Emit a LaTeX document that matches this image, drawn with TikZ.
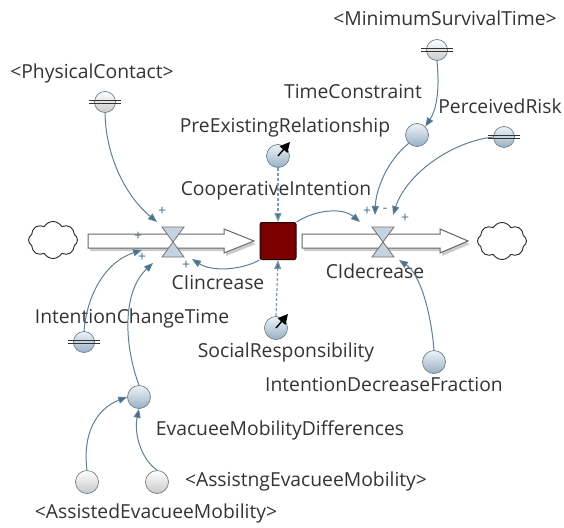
\documentclass[tikz,border=0pt]{standalone}
\usepackage{fontspec}
\setmainfont{Open Sans}
\usetikzlibrary{shapes.symbols,arrows.meta}

\definecolor{txt}{HTML}{333333}
\definecolor{link}{HTML}{5F7F97}
\definecolor{linkhead}{HTML}{44708F}
\definecolor{cirline}{HTML}{6F7E8A}
\definecolor{bluetop}{HTML}{EEF3F8}
\definecolor{bluebot}{HTML}{98B0C5}
\definecolor{greytop}{HTML}{FFFFFF}
\definecolor{greybot}{HTML}{C9C9C9}
\definecolor{stockred}{HTML}{7A0000}
\definecolor{valvefill}{HTML}{C4D3DF}
\definecolor{pipeline}{HTML}{666666}

\tikzset{
  lbl/.style={font=\fontsize{19.3}{22}\selectfont, text=txt, inner sep=0pt},
  sign/.style={font=\fontsize{14}{16}\selectfont, text=linkhead, inner sep=0pt},
  auxv/.style={circle, minimum size=23pt, inner sep=0pt, draw=cirline, line width=0.7pt,
               top color=bluetop, bottom color=bluebot},
  shadowv/.style={circle, minimum size=23pt, inner sep=0pt, draw=cirline, line width=0.7pt,
               top color=greytop, bottom color=greybot},
  consts/.style={circle, minimum size=21pt, inner sep=0pt, draw=cirline, line width=0.7pt,
               top color=bluetop, bottom color=bluebot},
  constg/.style={circle, minimum size=21pt, inner sep=0pt, draw=cirline, line width=0.7pt,
               top color=greytop, bottom color=greybot},
  bar/.style={draw=black!80, line width=0.8pt},
  link/.style={draw=link, line width=1pt, -{Triangle[length=9pt,width=7pt,fill=linkhead]}},
  dashlink/.style={draw=link!80, line width=1.2pt, dash pattern=on 3pt off 2pt,
                   -{Triangle[length=9pt,width=7pt,fill=linkhead]}},
  pipe/.style={draw=pipeline, line width=1pt, fill=white},
  valvetri/.style={draw=black!55, line width=0.8pt, fill=valvefill},
  cloudy/.style={cloud, cloud puffs=8, cloud puff arc=120, aspect=1.35, draw=black!85,
                 line width=0.9pt, fill=white, minimum width=49pt, minimum height=37pt, inner sep=0pt},
  stockbox/.style={draw=black!70!stockred, line width=1pt, fill=stockred, rounded corners=2pt,
                   minimum width=36pt, minimum height=37pt, inner sep=0pt},
  pointer/.style={line width=1.4pt, -{Triangle[length=10pt,width=10pt]}}
}

\newcommand\twobars[1]{%
  \draw[bar] ([shift={(-5pt,1.6pt)}]#1.west) -- ([shift={(5pt,1.6pt)}]#1.east);
  \draw[bar] ([shift={(-5pt,-1.6pt)}]#1.west) -- ([shift={(5pt,-1.6pt)}]#1.east);}

\begin{document}
\begin{tikzpicture}[x=1pt,y=-1pt]
\useasboundingbox (0,0) rectangle (564,527);

% ---- flow pipes ----
\fill[black!20] (90,237) -- (226,237) -- (226,232) -- (256,244) -- (226,256) -- (226,251) -- (90,251) -- cycle;
\draw[pipe] (88,234) -- (224,234) -- (224,229) -- (254,241) -- (224,253) -- (224,248) -- (88,248) -- cycle;
\fill[black!20] (304,237) -- (442,237) -- (442,232) -- (470,244) -- (442,256) -- (442,251) -- (304,251) -- cycle;
\draw[pipe] (302,234) -- (440,234) -- (440,229) -- (468,241) -- (440,253) -- (440,248) -- (302,248) -- cycle;

% ---- clouds and stock ----
\node[cloudy] (srccloud) at (53,240) {};
\node[cloudy] (sinkcloud) at (502,241) {};
\node[stockbox] (ci) at (278,241) {};

% ---- valves ----
\coordinate (vin) at (173,242);
\coordinate (vout) at (383,242);
\foreach \v in {vin,vout}{
  \draw[valvetri] ([shift={(-11pt,15pt)}]\v) -- ([shift={(11pt,15pt)}]\v) -- (\v) -- cycle;
  \draw[valvetri] ([shift={(-11pt,-15pt)}]\v) -- ([shift={(11pt,-15pt)}]\v) -- (\v) -- cycle;
}

% ---- variables ----
\node[constg] (phys) at (105,102) {};
\node[constg] (mst) at (437,50) {};
\node[auxv] (tc) at (417,135) {};
\node[consts] (pr) at (504,137) {};
\node[auxv] (per) at (278,156) {};
\node[auxv] (sr) at (276,328) {};
\node[consts] (ict) at (84,342) {};
\node[auxv] (idf) at (434,362) {};
\node[auxv] (emd) at (139,397) {};
\node[shadowv] (aem) at (87,482) {};
\node[shadowv] (gem) at (157,482) {};
\twobars{phys}
\twobars{mst}
\twobars{pr}
\twobars{ict}
\draw[pointer] (per.center) -- ++(12pt,14pt);
\draw[pointer] (sr.center) -- ++(12pt,14pt);

% ---- labels ----
\node[lbl] (lphys) at (92,73) {<PhysicalContact>};
\node[lbl] (lmst) at (445,18) {<MinimumSurvivalTime>};
\node[lbl] (ltc) at (353,92) {TimeConstraint};
\node[lbl] (lpr) at (500,106) {PerceivedRisk};
\node[lbl] (lper) at (285,127) {PreExistingRelationship};
\node[lbl] (lci) at (276,191) {CooperativeIntention};
\node[lbl] (lin) at (218,283) {CIincrease};
\node[lbl] (lout) at (375,271) {CIdecrease};
\node[lbl] (lict) at (132,318) {IntentionChangeTime};
\node[lbl] (lsr) at (286,352) {SocialResponsibility};
\node[lbl] (lidf) at (384,385) {IntentionDecreaseFraction};
\node[lbl] (lemd) at (280,430) {EvacueeMobilityDifferences};
\node[lbl] (lgem) at (306,481) {<AssistngEvacueeMobility>};
\node[lbl] (laem) at (156,513) {<AssistedEvacueeMobility>};

% ---- causal links ----
\coordinate (inA) at (157,222);
\coordinate (inB) at (142,250);
\coordinate (inC) at (153,263);
\coordinate (inD) at (192,259);
\coordinate (outA) at (360,222);
\coordinate (outB) at (375,215);
\coordinate (outC) at (393,215);
\coordinate (outD) at (399,260);

\draw[link] (phys.south) .. controls (106,160) and (128,198) .. (inA);
\draw[link] (ict.north) .. controls (87,295) and (105,262) .. (inB);
\draw[link] (emd.north) .. controls (124,345) and (122,292) .. (inC);
\draw[link] (ci.south west) .. controls (242,270) and (212,272) .. (inD);
\draw[link] (ci.north east) .. controls (315,210) and (342,207) .. (outA);
\draw[link] (tc.south west) .. controls (388,160) and (376,188) .. (outB);
\draw[link] (pr.west) .. controls (450,142) and (406,175) .. (outC);
\draw[link] (idf.north) .. controls (431,312) and (420,274) .. (outD);
\draw[link] (mst.south) .. controls (440,92) and (436,110) .. (tc.north east);
\draw[dashlink] (per.south) -- (ci.north);
\draw[dashlink] (sr.north) -- (ci.south);
\draw[link] (aem.north) .. controls (82,432) and (98,408) .. (emd.west);
\draw[link] (gem.north) .. controls (140,458) and (134,432) .. (emd.south);

% ---- polarities ----
\node[sign] (s1) at (162,211) {+};
\node[sign] (s2) at (138,236) {+};
\node[sign] (s3) at (142,257) {+};
\node[sign] (s4) at (186,265) {+};
\node[sign] (s5) at (367,211) {+};
\node[sign] (s6) at (385,210) {-};
\node[sign] (s7) at (405,218) {+};
\end{tikzpicture}
\end{document}
